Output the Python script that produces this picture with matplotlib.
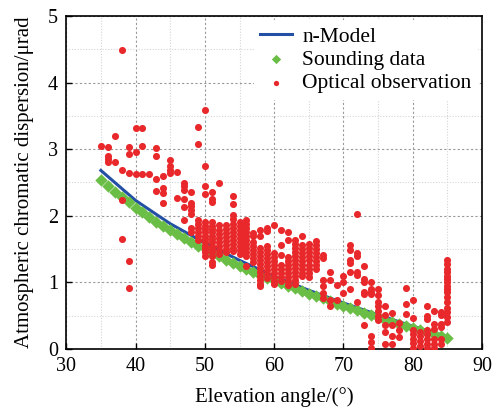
import numpy as np
import matplotlib
matplotlib.use('Agg')
import matplotlib.pyplot as plt
from matplotlib.ticker import MultipleLocator

plt.rcParams['font.family'] = ['Liberation Serif', 'DejaVu Serif']
plt.rcParams['mathtext.fontset'] = 'stix'

# n-Model curve
model_angle = [35, 40, 45, 50, 55, 60, 65, 70, 75, 80, 85]
model_disp = [2.68, 2.23, 1.88, 1.59, 1.33, 1.09, 0.88, 0.69, 0.51, 0.34, 0.18]

# sounding data, one point per degree 35..85
sound_angle = list(range(35, 86))
sound_disp = [2.54, 2.45, 2.36, 2.28, 2.20, 2.12, 2.05, 1.98, 1.91, 1.84,
              1.78, 1.72, 1.66, 1.60, 1.55, 1.51, 1.44, 1.39, 1.34, 1.29,
              1.25, 1.20, 1.16, 1.11, 1.07, 1.03, 0.99, 0.95, 0.91, 0.87,
              0.83, 0.79, 0.76, 0.72, 0.68, 0.65, 0.61, 0.58, 0.54, 0.51,
              0.48, 0.44, 0.41, 0.38, 0.35, 0.31, 0.28, 0.25, 0.22, 0.19,
              0.16]

# optical observations, grouped by elevation angle
opt_angle = list(range(35, 86))
opt_disp = [
    [3.05],
    [3.03, 2.9, 2.85, 2.81],
    [3.2, 2.81],
    [4.49, 2.68, 2.23, 1.65],
    [3.03, 2.92, 2.64, 1.32, 0.92],
    [3.31, 2.96, 2.63],
    [3.32, 3.05, 2.63],
    [2.63],
    [3.02, 2.89, 2.55, 2.37],
    [2.6, 2.41, 2.34, 2.19],
    [2.83, 2.74, 2.69, 2.64],
    [2.66, 2.26],
    [2.49, 2.44, 2.38, 2.25, 2.13, 1.93],
    [2.36, 2.19, 2.14, 2.08, 2.02, 1.81, 1.76],
    [3.33, 3.08, 1.94, 1.88, 1.82, 1.76, 1.7, 1.64],
    [3.59, 2.75, 2.44, 2.32, 1.9, 1.85, 1.8, 1.75, 1.7, 1.65, 1.6, 1.55, 1.5, 1.45, 1.4],
    [2.36, 2.25, 2.2, 1.9, 1.85, 1.8, 1.75, 1.7, 1.65, 1.6, 1.55, 1.5, 1.45, 1.4, 1.3, 1.26],
    [2.49, 1.86, 1.79, 1.73, 1.67, 1.61, 1.55, 1.49, 1.43],
    [1.86, 1.8, 1.74, 1.68, 1.62, 1.56, 1.5, 1.45],
    [2.29, 2.17, 2.01, 1.95, 1.88, 1.82, 1.76, 1.7, 1.64, 1.58, 1.52, 1.47],
    [1.91, 1.85, 1.79, 1.73, 1.67, 1.61, 1.55, 1.49, 1.43],
    [1.93, 1.87, 1.81, 1.75, 1.69, 1.63, 1.57, 1.51, 1.45, 1.39, 1.25],
    [1.74, 1.7, 1.6, 1.55, 1.48, 1.42, 1.36, 1.3],
    [1.79, 1.69, 1.52, 1.46, 1.4, 1.34, 1.28, 1.22, 1.16, 1.1, 1.04, 0.98, 0.94],
    [1.82, 1.77, 1.54, 1.48, 1.42, 1.36, 1.3, 1.24, 1.18, 1.12, 1.07],
    [1.86, 1.44, 1.38, 1.32, 1.26, 1.2, 1.14, 1.08, 1.02, 0.97],
    [1.79, 1.56, 1.41, 1.26, 1.2, 1.14, 1.08, 1.02],
    [1.76, 1.64, 1.38, 1.32, 1.26, 1.2, 1.14, 1.08, 1.02, 0.96],
    [1.64, 1.58, 1.52, 1.46, 1.4, 1.34, 1.28, 1.22, 1.16, 1.1, 1.04, 0.98],
    [1.69, 1.56, 1.5, 1.44, 1.38, 1.32, 1.26, 1.2, 1.14, 1.09],
    [1.58, 1.52, 1.46, 1.4, 1.34, 1.26, 1.2, 1.14, 1.08],
    [1.62, 1.56, 1.5, 1.44, 1.38, 1.32, 1.26, 1.2],
    [1.41, 1.37, 1.04, 0.94, 0.84, 0.76],
    [1.16, 1.04, 0.74, 0.64],
    [0.96, 0.73],
    [1.09, 1.01, 0.84],
    [1.56, 1.48, 1.34, 1.29, 1.15, 0.9],
    [2.02, 1.44, 1.4, 1.16, 1.11, 0.71],
    [1.25, 1.05, 1.01, 0.86, 0.83, 0.36],
    [1.0, 0.9, 0.86, 0.82, 0.2, 0.11, 0.02],
    [0.9, 0.81, 0.7, 0.64, 0.57, 0.5, 0.44],
    [0.64, 0.51, 0.36, 0.26, 0.07],
    [0.54, 0.36, 0.2, 0.08],
    [0.39, 0.29, 0.18],
    [0.91, 0.68, 0.52],
    [0.73, 0.47, 0.29, 0.22, 0.15, 0.09, 0.02],
    [0.26, 0.19, 0.12, 0.05],
    [0.64, 0.5, 0.45, 0.29, 0.22, 0.15, 0.08, 0.02],
    [0.57, 0.37, 0.3, 0.15, 0.08, 0.02],
    [0.56, 0.51, 0.38, 0.33, 0.15, 0.07],
    [1.34, 1.27, 1.2, 1.15, 1.1, 1.05, 1.0, 0.95, 0.9, 0.85, 0.78, 0.7, 0.62, 0.55, 0.48, 0.4],
]

opt_x = np.concatenate([[a] * len(v) for a, v in zip(opt_angle, opt_disp)])
opt_y = np.concatenate(opt_disp)

fig = plt.figure(figsize=(4.94, 4.09), dpi=100)
ax = fig.add_axes([0.134, 0.147, 0.842, 0.814])

ax.plot(model_angle, model_disp, color='#2350a5', lw=2.2, label='n-Model', zorder=3)
ax.scatter(sound_angle, sound_disp, marker='D', s=40, color='#6abd45', linewidths=0,
           label='Sounding data', zorder=4)
ax.scatter(opt_x, opt_y, marker='o', s=26, color='#e8282b', linewidths=0,
           label='Optical observation', zorder=5)

ax.set_xlim(30, 90)
ax.set_ylim(0, 5)
ax.xaxis.set_major_locator(MultipleLocator(10))
ax.xaxis.set_minor_locator(MultipleLocator(5))
ax.yaxis.set_major_locator(MultipleLocator(1))
ax.yaxis.set_minor_locator(MultipleLocator(0.5))
ax.grid(which='major', color='#999999', linestyle=(0, (2, 2)), lw=0.8)
ax.grid(which='minor', color='#d5d5d5', linestyle=(0, (1, 1.5)), lw=0.8)
ax.set_axisbelow(True)
ax.tick_params(which='major', direction='in', length=4, width=1, labelsize=14.5, pad=6)
ax.tick_params(which='minor', length=0)
for s in ax.spines.values():
    s.set_linewidth(1.2)

ax.set_xlabel('Elevation angle/(°)', fontsize=15, labelpad=8)
ax.set_ylabel('Atmospheric chromatic dispersion/μrad', fontsize=15, labelpad=10)

leg = ax.legend(loc='upper right', fontsize=15.5, frameon=True, fancybox=False,
                edgecolor='none', framealpha=1, markerscale=0.75,
                handlelength=1.5, handletextpad=0.45, labelspacing=0.15,
                borderpad=0.3, borderaxespad=0.2)

fig.savefig('out.png', dpi=100)
